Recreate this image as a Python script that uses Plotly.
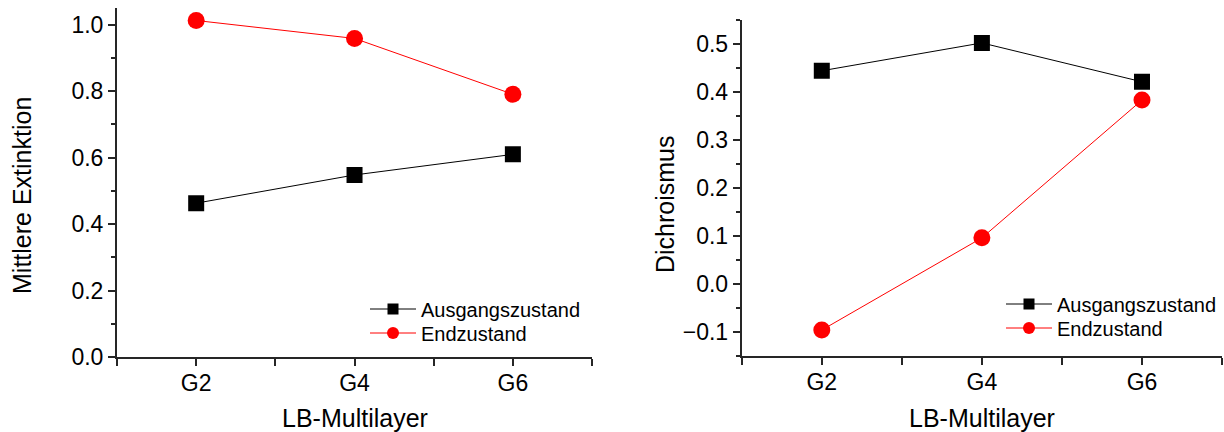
import plotly.graph_objects as go

# Sample generations (LB multilayers)
categories = ["G2", "G4", "G6"]

# Mean extinction
extinktion_ausgang = [0.463, 0.548, 0.610]
extinktion_end = [1.013, 0.959, 0.791]

# Dichroism
dichro_ausgang = [0.444, 0.502, 0.421]
dichro_end = [-0.096, 0.096, 0.383]

series_names = ["Ausgangszustand", "Endzustand"]

FONT = "Liberation Sans, Arial, sans-serif"
xpos = list(range(len(categories)))

fig = go.Figure()

STYLES = [
    dict(color="black", symbol="square", size=16),
    dict(color="#ff0000", symbol="circle", size=17),
]


def add_pair(values, xa, yax, legends):
    for name, vals, st, leg in zip(series_names, values, STYLES, legends):
        fig.add_trace(go.Scatter(
            x=xpos, y=vals, mode="lines+markers", name=name,
            line=dict(color=st["color"], width=1),
            marker=dict(symbol=st["symbol"], size=st["size"], color=st["color"]),
            xaxis=xa, yaxis=yax, showlegend=False))
        # smaller symbol for the legend entry
        fig.add_trace(go.Scatter(
            x=[None], y=[None], mode="lines+markers", name=name,
            line=dict(color=st["color"], width=1),
            marker=dict(symbol=st["symbol"], size=st["size"] - 5, color=st["color"]),
            xaxis=xa, yaxis=yax, legend=leg, showlegend=True))


add_pair([extinktion_ausgang, extinktion_end], "x", "y", ["legend", "legend3"])
add_pair([dichro_ausgang, dichro_end], "x2", "y2", ["legend2", "legend4"])

# x ticks every half step, labels only at the categories
half_steps = [i * 0.5 - 0.5 for i in range(7)]
half_text = [categories[int(v)] if v >= 0 and float(v).is_integer() else "" for v in half_steps]

AXC = "#262626"
xcommon = dict(
    range=[-0.5, 2.5], tickvals=half_steps, ticktext=half_text,
    ticks="outside", ticklen=7, tickwidth=1.5, tickcolor=AXC,
    showline=True, linecolor=AXC, linewidth=2, showgrid=False,
    zeroline=False, ticklabelstandoff=-3,
    tickfont=dict(family=FONT, size=23, color="black"),
)
ycommon = dict(
    ticks="outside", ticklen=7, tickwidth=1.5, tickcolor=AXC,
    showline=True, linecolor=AXC, linewidth=2, showgrid=False,
    zeroline=False, tickformat=".1f",
    tickfont=dict(family=FONT, size=23, color="black"),
    minor=dict(ticks="outside", ticklen=4, tickwidth=1.5, tickcolor=AXC),
)

title_font = dict(family=FONT, size=25, color="black")


def legend_at(px, py):
    return dict(x=px / 1224, y=1 - py / 432, xanchor="left", yanchor="middle",
                bgcolor="rgba(0,0,0,0)", itemsizing="trace", itemwidth=46,
                font=dict(family=FONT, size=20, color="black"))


fig.update_layout(
    width=1224, height=432,
    margin=dict(l=0, r=0, t=0, b=0, autoexpand=False),
    paper_bgcolor="white", plot_bgcolor="white",
    showlegend=True,
    xaxis=dict(domain=[0.0956, 0.4837], anchor="y", **xcommon),
    yaxis=dict(domain=[0.1736, 0.981], anchor="x", range=[0, 1.05],
               dtick=0.2, tick0=0, minor_dtick=0.1, **ycommon),
    xaxis2=dict(domain=[0.606, 0.9984], anchor="y2", **xcommon),
    yaxis2=dict(domain=[0.176, 0.954], anchor="x2", range=[-0.15, 0.55],
                dtick=0.1, tick0=0, minor_dtick=0.05, **ycommon),
    legend=legend_at(365, 309),
    legend3=legend_at(365, 333),
    legend2=legend_at(1001, 304),
    legend4=legend_at(1001, 328),
    annotations=[
        dict(text="Mittlere Extinktion", x=22 / 1224, y=1 - 196 / 432, xref="paper",
             yref="paper", textangle=-90, showarrow=False, font=title_font,
             xanchor="center", yanchor="middle"),
        dict(text="Dichroismus", x=665 / 1224, y=1 - 204 / 432, xref="paper",
             yref="paper", textangle=-90, showarrow=False, font=title_font,
             xanchor="center", yanchor="middle"),
        dict(text="LB-Multilayer", x=355 / 1224, y=1 - 418 / 432, xref="paper",
             yref="paper", showarrow=False, font=title_font,
             xanchor="center", yanchor="middle"),
        dict(text="LB-Multilayer", x=982 / 1224, y=1 - 418 / 432, xref="paper",
             yref="paper", showarrow=False, font=title_font,
             xanchor="center", yanchor="middle"),
    ],
)

fig.write_html("out.html")
